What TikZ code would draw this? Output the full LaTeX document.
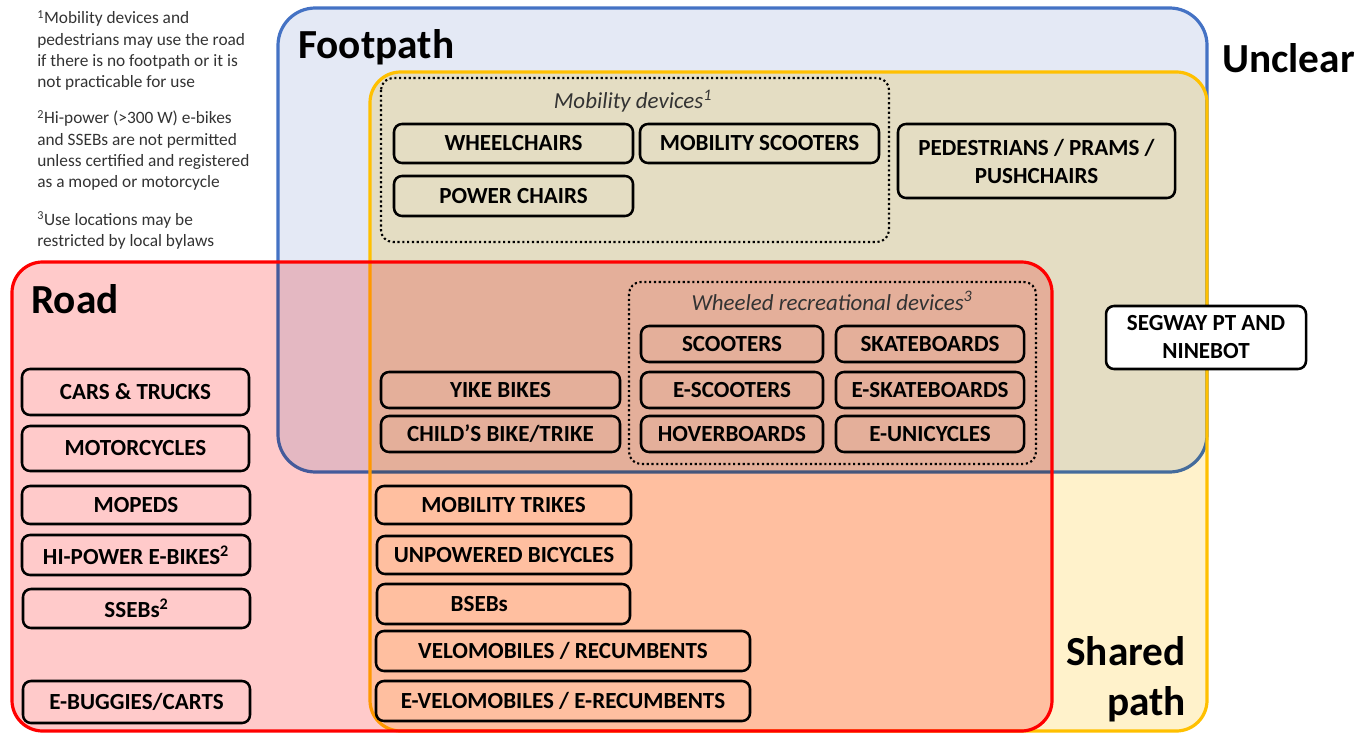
\documentclass[tikz,border=0pt]{standalone}
\usepackage{fontspec}
\setmainfont{Carlito}
\usetikzlibrary{calc}

\definecolor{footfill}{HTML}{E4E9F5}
\definecolor{footline}{HTML}{4472C4}
\definecolor{sharedfill}{HTML}{FFF2CB}
\definecolor{sharedline}{HTML}{FFC000}
\definecolor{roadfill}{HTML}{FFCACA}
\definecolor{roadline}{HTML}{FF0000}

\tikzset{
  region/.style={line width=2.4pt},
  vehicle/.style={draw, line width=1.9pt, rounded corners=6pt, inner sep=0pt, align=center,
    font=\fontsize{17.3}{21}\selectfont\bfseries},
  devgroup/.style={draw, dotted, line width=1.6pt, rounded corners=9pt},
  grouplabel/.style={inner sep=0pt, font=\fontsize{17.2}{20}\selectfont\itshape, text=black!80},
  title/.style={inner sep=0pt, anchor=base west, font=\fontsize{31}{37.5}\selectfont\bfseries},
  note/.style={inner sep=0pt, anchor=base west, align=left, text=black!80,
    font=\fontsize{13}{16}\selectfont}
}

% box given by its corners in pixels: (x1,y1,x2,y2){name}{text}
\def\vehiclebox(#1,#2,#3,#4)#5#6{\node[vehicle, minimum width={(#3-#1)*0.75pt}, minimum height={(#4-#2)*0.75pt}] (#5) at ({(#1+#3)/2},{(#2+#4)/2}) {#6};}

\begin{document}
\begin{tikzpicture}[x=0.75pt, y=-0.75pt]
			%%%%% START %%%%%
			\useasboundingbox (0,0) rectangle (1358,734);
			
			% the three areas, each one laid over the last
			\fill[footfill, rounded corners=28pt] (278,8) rectangle (1207,472);
			\draw[region, footline, rounded corners=28pt] (278,8) rectangle (1207,472);
			\fill[sharedfill, rounded corners=23pt, blend mode=multiply] (370,72) rectangle (1207,731);
			\draw[region, sharedline, rounded corners=23pt] (370,72) rectangle (1207,731);
			\fill[roadfill, rounded corners=23pt, blend mode=multiply] (12,262) rectangle (1052,731);
			\draw[region, roadline, rounded corners=23pt] (12,262) rectangle (1052,731);
			
			% area names
			\node[title] (footpath) at (298,59) {Footpath};
			\node[title] (unclear) at (1222,73) {Unclear};
			\node[title] (road) at (31,313) {Road};
			\node[title, anchor=base east, align=right] (shared) at (1186,715) {Shared\\path};
			
			% notes (base = last line)
			\node[note] (note1) at (37,88) {\textsuperscript{1}Mobility devices and\\pedestrians may use the road\\if there is no footpath or it is\\not practicable for use};
			\node[note] (note2) at (37,188) {\textsuperscript{2}Hi-power (>300 W) e-bikes\\and SSEBs are not permitted\\unless certified and registered\\as a moped or motorcycle};
			\node[note] (note3) at (37,247) {\textsuperscript{3}Use locations may be\\restricted by local bylaws};
			
			% mobility devices
			\draw[devgroup] (381,78) rectangle (889,242);
			\node[grouplabel] (mobility) at (633,101) {Mobility devices\textsuperscript{1}};
			\vehiclebox(394,124,633,163){wheelchairs}{WHEELCHAIRS}
			\vehiclebox(640,124,879,163){mobscooters}{MOBILITY SCOOTERS}
			\vehiclebox(394,176,633,216){powerchairs}{POWER CHAIRS}
			\vehiclebox(898,124,1175,198){pedestrians}{PEDESTRIANS / PRAMS /\\PUSHCHAIRS}
			\node[vehicle, fill=white, minimum width=150pt, minimum height=47.25pt] (segway) at (1206,337.5) {SEGWAY PT AND\\NINEBOT};
			
			% wheeled recreational devices
			\draw[devgroup] (629,282) rectangle (1036,464);
			\node[grouplabel] (wheeled) at (832,301) {Wheeled recreational devices\textsuperscript{3}};
			\vehiclebox(641,326,823,362){scooters}{SCOOTERS}
			\vehiclebox(836,326,1024,362){skateboards}{SKATEBOARDS}
			\vehiclebox(641,372,823,408){escooters}{E-SCOOTERS}
			\vehiclebox(836,372,1024,408){eskateboards}{E-SKATEBOARDS}
			\vehiclebox(641,416,823,452){hoverboards}{HOVERBOARDS}
			\vehiclebox(836,416,1024,452){eunicycles}{E-UNICYCLES}
			\vehiclebox(381,372,620,408){yike}{YIKE BIKES}
			\vehiclebox(381,416,620,452){childs}{CHILD’S BIKE/TRIKE}
			
			% road and shared path
			\vehiclebox(376,486,631,524){trikes}{MOBILITY TRIKES}
			\vehiclebox(377,536,631,574){bicycles}{UNPOWERED BICYCLES}
			\vehiclebox(377,584,630,624){bsebs}{BSEBs\hspace{2.1em}}
			\vehiclebox(376,631,750,671){velo}{VELOMOBILES / RECUMBENTS}
			\vehiclebox(376,681,750,721){evelo}{E-VELOMOBILES / E-RECUMBENTS}
			
			% road only
			\vehiclebox(22,369,249,415){cars}{CARS \& TRUCKS}
			\vehiclebox(22,426,249,471){motorcycles}{MOTORCYCLES}
			\vehiclebox(22,486,250,524){mopeds}{MOPEDS}
			\vehiclebox(22,535,250,575){ebikes}{HI-POWER E-BIKES\textsuperscript{2}}
			\vehiclebox(23,589,250,628){ssebs}{SSEBs\textsuperscript{2}}
			\vehiclebox(23,681,250,723){buggies}{E-BUGGIES/CARTS}
			
			%%%%% END %%%%%
\end{tikzpicture}
\end{document}
